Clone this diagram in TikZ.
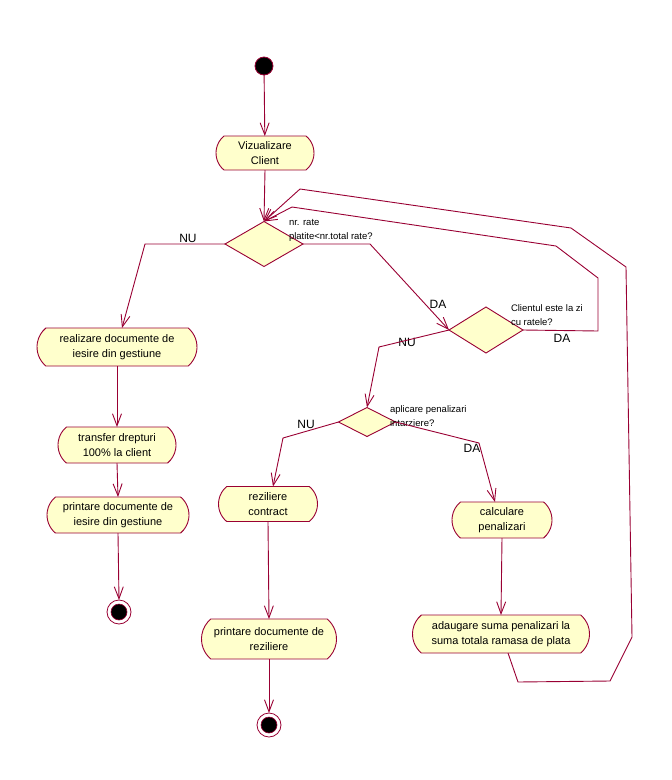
\documentclass[tikz,border=0pt]{standalone}
\usepackage{fontspec}
\setmainfont{Liberation Sans}
\usetikzlibrary{shapes.misc,shapes.geometric,arrows.meta}
\definecolor{lc}{RGB}{153,0,51}
\definecolor{bf}{RGB}{255,255,204}
\begin{document}
\begin{tikzpicture}[x=1pt,y=-1pt,
  every node/.style={inner sep=0pt, outer sep=0pt},
  act/.style={rounded rectangle, rounded rectangle arc length=100, draw=lc, fill=bf, line width=0.9pt, align=center, font=\fontsize{11}{15}\selectfont},
  dec/.style={diamond, draw=lc, fill=bf, line width=0.9pt},
  conn/.style={draw=lc, line width=0.9pt, -{Straight Barb[length=12pt,width=9pt]}},
  guard/.style={font=\fontsize{12}{14}\selectfont},
  cond/.style={anchor=west, align=left, font=\fontsize{9.5}{14}\selectfont},
  startst/.style={circle, fill=black, draw=lc, line width=0.8pt, minimum size=18pt},
  endst/.style={circle, fill=white, draw=lc, line width=0.8pt, minimum size=24pt}]
\useasboundingbox (0,0) rectangle (672,780);

% nodes
\node[startst] (start) at (264,66) {};
\node[act, minimum width=98pt, minimum height=34pt] (viz) at (265,153) {Vizualizare\\Client};
\node[dec, minimum width=78pt, minimum height=45pt] (d1) at (264,244) {};
\node[dec, minimum width=74pt, minimum height=46pt] (d2) at (486,330) {};
\node[dec, minimum width=57pt, minimum height=29pt] (d3) at (367,422) {};
\node[act, minimum width=160pt, minimum height=38pt] (realiz) at (117,347) {realizare documente de\\iesire din gestiune};
\node[act, minimum width=118pt, minimum height=36pt] (transf) at (117,445) {transfer drepturi\\100\% la client};
\node[act, minimum width=142pt, minimum height=36pt] (printg) at (118,515) {printare documente de\\iesire din gestiune};
\node[endst] (end1) at (119,612) {};
\node[circle, fill=black, draw=lc, line width=0.6pt, minimum size=16pt] (end1in) at (end1) {};
\node[act, minimum width=99pt, minimum height=35pt] (rezil) at (268,504) {reziliere\\contract};
\node[act, minimum width=135pt, minimum height=40pt] (printr) at (269,639) {printare documente de\\reziliere};
\node[endst] (end2) at (269,725) {};
\node[circle, fill=black, draw=lc, line width=0.6pt, minimum size=16pt] (end2in) at (end2) {};
\node[act, minimum width=100pt, minimum height=36pt] (calc) at (502,520) {calculare\\penalizari};
\node[act, minimum width=177pt, minimum height=38pt] (adaug) at (501,634) {adaugare suma penalizari la\\suma totala ramasa de plata};

% condition texts
\node[cond] (c1t) at (289,230) {nr. rate\\platite<nr.total rate?};
\node[cond] (c2t) at (511,315) {Clientul este la zi\\cu ratele?};
\node[cond] (c3t) at (390,416) {aplicare penalizari\\intarziere?};

% guard labels
\node[guard] (g1) at (188,238) {NU};
\node[guard] (g2) at (438,304) {DA};
\node[guard] (g3) at (562,338) {DA};
\node[guard] (g4) at (407,342) {NU};
\node[guard] (g5) at (306,424) {NU};
\node[guard] (g6) at (472,448) {DA};

% bend coordinates
\coordinate (b1) at (145,244);
\coordinate (b2) at (370,244);
\coordinate (b3a) at (598,331);
\coordinate (b3b) at (598,278);
\coordinate (b3c) at (556,246);
\coordinate (b3d) at (292,207);
\coordinate (b4) at (379,347);
\coordinate (b5) at (283,438);
\coordinate (b6) at (479,443);
\coordinate (b7a) at (518,682);
\coordinate (b7b) at (610,681);
\coordinate (b7c) at (632,637);
\coordinate (b7d) at (626,267);
\coordinate (b7e) at (571,228);
\coordinate (b7f) at (300,189);

% connectors
\draw[conn] (start) -- (viz);
\draw[conn] (viz.south) -- (d1.north);
\draw[conn] (d1.west) -- (b1) -- ([xshift=5pt]realiz.north);
\draw[conn] (d1.east) -- (b2) -- (d2.west);
\draw[conn] (d2.east) -- (b3a) -- (b3b) -- (b3c) -- (b3d) -- (d1.north);
\draw[conn] (d2.west) -- (b4) -- (d3.north);
\draw[conn] (d3.west) -- (b5) -- ([xshift=5pt]rezil.north);
\draw[conn] (d3.east) -- (b6) -- ([xshift=-7pt]calc.north);
\draw[conn] (realiz.south) -- (transf.north);
\draw[conn] (transf.south) -- (printg.north);
\draw[conn] (printg.south) -- (end1.north);
\draw[conn] (rezil.south) -- (printr.north);
\draw[conn] (printr.south) -- (end2.north);
\draw[conn] (calc.south) -- (adaug.north);
\draw[conn] ([xshift=7pt]adaug.south) -- (b7a) -- (b7b) -- (b7c) -- (b7d) -- (b7e) -- (b7f) -- (d1.north);
\end{tikzpicture}
\end{document}
